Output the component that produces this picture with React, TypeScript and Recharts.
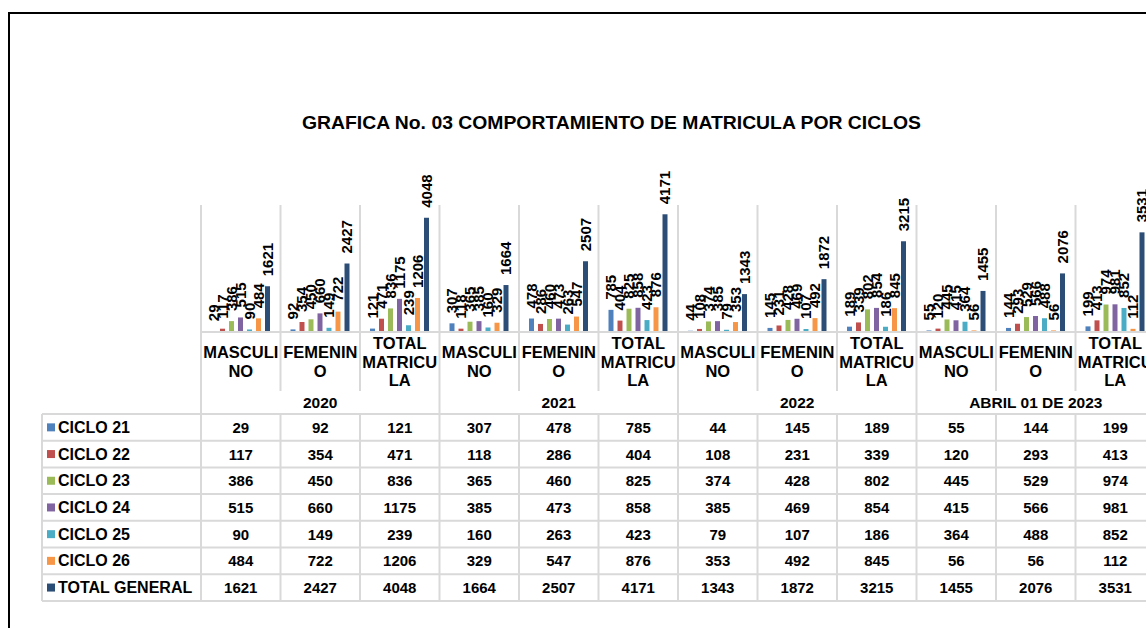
import { BarChart, Bar, XAxis, YAxis, LabelList } from 'recharts';

const years = ['2020', '2021', '2022', 'ABRIL 01 DE 2023'];
const subCats = ['MASCULINO', 'FEMENINO', 'TOTAL MATRICULA'];
// how Excel wraps the category names in the narrow columns
const subCatLines = [['MASCULI', 'NO'], ['FEMENIN', 'O'], ['TOTAL', 'MATRICU', 'LA']];

const seriesNames = ['CICLO 21', 'CICLO 22', 'CICLO 23', 'CICLO 24', 'CICLO 25', 'CICLO 26', 'TOTAL GENERAL'];
const colors = ['#4F81BD', '#C0504D', '#9BBB59', '#8064A2', '#4BACC6', '#F79646', '#2C4D75'];

const ciclo21 = [29, 92, 121, 307, 478, 785, 44, 145, 189, 55, 144, 199];
const ciclo22 = [117, 354, 471, 118, 286, 404, 108, 231, 339, 120, 293, 413];
const ciclo23 = [386, 450, 836, 365, 460, 825, 374, 428, 802, 445, 529, 974];
const ciclo24 = [515, 660, 1175, 385, 473, 858, 385, 469, 854, 415, 566, 981];
const ciclo25 = [90, 149, 239, 160, 263, 423, 79, 107, 186, 364, 488, 852];
const ciclo26 = [484, 722, 1206, 329, 547, 876, 353, 492, 845, 56, 56, 112];
const totalGeneral = [1621, 2427, 4048, 1664, 2507, 4171, 1343, 1872, 3215, 1455, 2076, 3531];

const seriesValues = [ciclo21, ciclo22, ciclo23, ciclo24, ciclo25, ciclo26, totalGeneral];

const data = years.flatMap((yr, yi) =>
  subCats.map((sub, si) => {
    const i = yi * subCats.length + si;
    const row: Record<string, any> = { key: `${yr}|${sub}`, year: yr, sub: si };
    seriesValues.forEach((vals, k) => {
      row[`s${k}`] = vals[i];
    });
    return row;
  })
);

const TITLE = 'GRAFICA No. 03 COMPORTAMIENTO DE MATRICULA POR CICLOS';

// layout
const FONT = '"Liberation Sans", Arial, sans-serif';
const CHART_W = 1240;
const CHART_H = 628;
const LEFT = 201;
const PLOT_W = 954;
const TOP = 205;
const AXIS_H = 296;
const BAND = PLOT_W / data.length;
const TABLE_LEFT = 42;
const ROW_H = 26.7;
const GRID = '#d9d9d9';

function TableTick(props: any) {
  const { x, y, payload } = props;
  const idx = data.findIndex((d) => d.key === payload.value);
  const row = data[idx];
  const y0 = y;
  const plotTop = y0 - (CHART_H - AXIS_H - TOP);
  const labelBottom = y0 + 59;
  const tableTop = y0 + 82;
  const tableBottom = tableTop + ROW_H * seriesNames.length;
  const xl = x - BAND / 2;
  const groupStart = row.sub === 0;
  const lines = subCatLines[row.sub];
  const lh = 18.5;
  const firstY = y0 + 29.5 - ((lines.length - 1) * lh) / 2;

  return (
    <g fontFamily={FONT} fontWeight="bold" fill="#000">
      {idx === 0 && (
        <g>
          <line x1={xl} x2={CHART_W} y1={y0} y2={y0} stroke={GRID} strokeWidth={2} />
          {Array.from({ length: seriesNames.length + 1 }).map((_, r) => (
            <line key={r} x1={TABLE_LEFT} x2={CHART_W} y1={tableTop + r * ROW_H} y2={tableTop + r * ROW_H} stroke={GRID} strokeWidth={2} />
          ))}
          <line x1={TABLE_LEFT} x2={TABLE_LEFT} y1={tableTop} y2={tableBottom} stroke={GRID} strokeWidth={2} />
          {seriesNames.map((name, r) => (
            <g key={name}>
              <rect x={47} y={tableTop + r * ROW_H + ROW_H / 2 - 4} width={8} height={8} fill={colors[r]} />
              <text x={58} y={tableTop + r * ROW_H + ROW_H / 2} dominantBaseline="central" fontSize={16} fill="#000">
                {name}
              </text>
            </g>
          ))}
        </g>
      )}
      {groupStart ? (
        <line x1={xl} x2={xl} y1={plotTop} y2={tableBottom} stroke={GRID} strokeWidth={2} />
      ) : (
        <g>
          <line x1={xl} x2={xl} y1={plotTop} y2={labelBottom} stroke={GRID} strokeWidth={2} />
          <line x1={xl} x2={xl} y1={tableTop} y2={tableBottom} stroke={GRID} strokeWidth={2} />
        </g>
      )}
      {idx === data.length - 1 && (
        <line x1={xl + BAND} x2={xl + BAND} y1={plotTop} y2={tableBottom} stroke={GRID} strokeWidth={2} />
      )}
      {lines.map((ln, li) => (
        <text key={li} x={x} y={firstY + li * lh} textAnchor="middle" dominantBaseline="central" fontSize={16.5} fill="#000">
          {ln}
        </text>
      ))}
      {row.sub === 1 && (
        <text x={x} y={y0 + 70} textAnchor="middle" dominantBaseline="central" fontSize={15.5} fill="#000">
          {row.year}
        </text>
      )}
      {seriesNames.map((_, r) => (
        <text key={r} x={x} y={tableTop + r * ROW_H + ROW_H / 2} textAnchor="middle" dominantBaseline="central" fontSize={15} fill="#000">
          {row[`s${r}`]}
        </text>
      ))}
    </g>
  );
}

function BarValue(props: any) {
  const { x, y, width, value } = props;
  const cx = x + width / 2;
  const ty = y - 10;
  return (
    <text
      x={cx}
      y={ty}
      transform={`rotate(-90, ${cx}, ${ty})`}
      textAnchor="start"
      dominantBaseline="central"
      fontFamily={FONT}
      fontWeight="bold"
      fontSize={15}
      fill="#000"
    >
      {value}
    </text>
  );
}

export default function App() {
  return (
    <div style={{ position: 'absolute', left: 0, top: 0, width: 1146, height: 628, overflow: 'hidden', background: '#fff' }}>
      <div style={{ position: 'absolute', left: 8, top: 12, width: 1300, height: 700, borderTop: '2px solid #000', borderLeft: '2px solid #000' }} />
      <svg style={{ position: 'absolute', left: 0, top: 0 }} width={1146} height={160}>
        <text
          x={611.5}
          y={123}
          textAnchor="middle"
          dominantBaseline="central"
          fontFamily={FONT}
          fontWeight="bold"
          fontSize={17.5}
          textLength={619}
          lengthAdjust="spacingAndGlyphs"
          fill="#000"
        >
          {TITLE}
        </text>
      </svg>
      <div style={{ position: 'absolute', left: 0, top: 0 }}>
        <BarChart
          width={CHART_W}
          height={CHART_H}
          data={data}
          margin={{ top: TOP, right: CHART_W - LEFT - PLOT_W, bottom: 0, left: LEFT }}
          barGap={4}
          barSize={5}
        >
          <XAxis
            dataKey="key"
            height={AXIS_H}
            interval={0}
            axisLine={false}
            tickLine={false}
            tickSize={0}
            tickMargin={0}
            tick={<TableTick />}
          />
          <YAxis hide domain={[0, 4500]} />
          {seriesNames.map((name, k) => (
            <Bar key={name} dataKey={`s${k}`} name={name} fill={colors[k]} isAnimationActive={false}>
              <LabelList dataKey={`s${k}`} content={<BarValue />} />
            </Bar>
          ))}
        </BarChart>
      </div>
    </div>
  );
}
